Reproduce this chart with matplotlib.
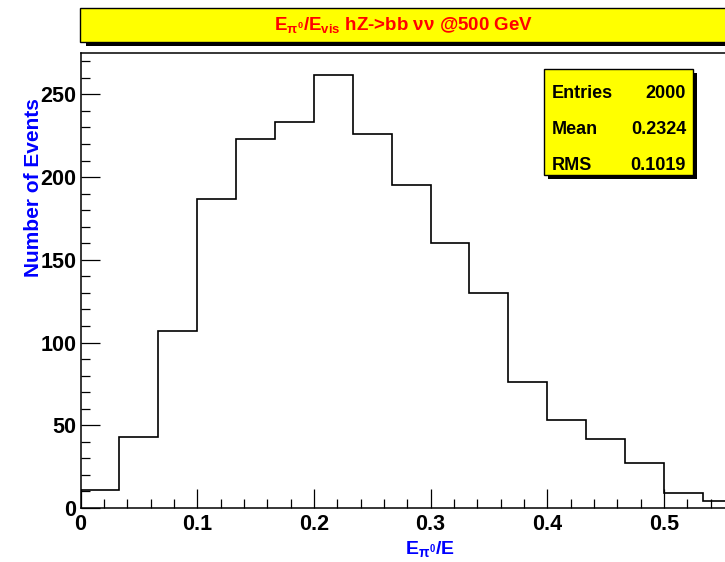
import numpy as np
import matplotlib
matplotlib.use("Agg")
import matplotlib.pyplot as plt
from matplotlib.patches import Rectangle
from matplotlib.ticker import MultipleLocator, FuncFormatter

plt.rcParams['font.family'] = ['Liberation Sans', 'DejaVu Sans']
plt.rcParams['font.weight'] = 'bold'
plt.rcParams['mathtext.fontset'] = 'custom'
plt.rcParams['mathtext.rm'] = 'Liberation Sans:bold'
plt.rcParams['mathtext.it'] = 'Liberation Sans:bold'
plt.rcParams['mathtext.bf'] = 'Liberation Sans:bold'

# ---- data ----
bin_width = 1.0 / 30
counts = [11, 43, 107, 187, 223, 233, 262, 226, 195, 160, 130, 76, 53, 42, 27, 9, 4]
x_ticks = [0.0, 0.1, 0.2, 0.3, 0.4, 0.5]
y_ticks = [0, 50, 100, 150, 200, 250]
stats_labels = ["Entries", "Mean", "RMS"]
stats_values = ["2000", "0.2324", "0.1019"]
title = r"$E_{\pi^{0}}/E_{vis}$ hZ->bb νν @500 GeV"
x_title = r"$E_{\pi^{0}}/E$"
y_title = "Number of Events"

W, H = 725, 562
fig = plt.figure(figsize=(W / 100, H / 100), dpi=100)
fig.patch.set_facecolor("white")

def fx(px):
    return px / W

def fy(py):
    return 1 - py / H

# axes frame: left 80.5 px, top 53, bottom 508; 0.1 units = 116.7 px
x0_px, top_px, bot_px = 80.5, 53, 508
xmax = 0.6
ax = fig.add_axes([fx(x0_px), fy(bot_px), xmax * 1166.7 / W, (bot_px - top_px) / H])
ax.set_xlim(0, xmax)
ax.set_ylim(0, 275)

edges = np.arange(len(counts) + 1) * bin_width
ax.stairs(counts, edges, color="black", linewidth=1.2, baseline=0)

for s in ax.spines.values():
    s.set_linewidth(1.1)
    s.set_color("black")

ax.xaxis.set_minor_locator(MultipleLocator(0.02))
ax.yaxis.set_minor_locator(MultipleLocator(10))
ax.set_xticks(x_ticks)
ax.set_yticks(y_ticks)
ax.xaxis.set_major_formatter(FuncFormatter(lambda v, p: "0" if abs(v) < 1e-9 else f"{v:.1f}"))
ax.yaxis.set_major_formatter(FuncFormatter(lambda v, p: f"{int(round(v))}"))
ax.tick_params(which="major", direction="in", length=13.5, width=0.9, labelsize=15.5)
ax.tick_params(which="minor", direction="in", length=6.8, width=0.9)
ax.tick_params(axis="x", which="major", pad=4)
ax.tick_params(axis="y", which="major", pad=3)
ax.tick_params(top=False, right=False, which="both")
for lab in ax.get_xticklabels() + ax.get_yticklabels():
    lab.set_fontweight("bold")

# axis titles
fig.text(fx(34), fy(188), y_title, rotation=90, ha="center", va="center",
         color="#0000ff", fontsize=15, fontweight="bold")
fig.text(fx(430), fy(549), x_title, ha="center", va="center",
         color="#0000ff", fontsize=14, fontweight="bold")

# title box with shadow
fig.patches.append(Rectangle((fx(86), fy(46)), fx(800), 4 / H, transform=fig.transFigure,
                             facecolor="black", edgecolor="none", zorder=1))
fig.patches.append(Rectangle((fx(80), fy(42)), fx(800), 34 / H, transform=fig.transFigure,
                             facecolor="#ffff00", edgecolor="black", linewidth=1.0, zorder=2))
fig.text(fx(404), fy(25), title, ha="center", va="center", color="#ff0000",
         fontsize=13.5, fontweight="bold", zorder=3)

# stats box with shadow
bx0, by0, bx1, by1 = 544, 69, 693, 175
fig.patches.append(Rectangle((fx(bx0 + 4), fy(by1 + 4)), (bx1 - bx0) / W, (by1 - by0) / H,
                             transform=fig.transFigure, facecolor="black", edgecolor="none", zorder=4))
fig.patches.append(Rectangle((fx(bx0), fy(by1)), (bx1 - bx0) / W, (by1 - by0) / H,
                             transform=fig.transFigure, facecolor="#ffff00", edgecolor="black",
                             linewidth=1.0, zorder=5))
rows_y = [93, 130, 166]
for lbl, val, yy in zip(stats_labels, stats_values, rows_y):
    fig.text(fx(552), fy(yy), lbl, ha="left", va="center", fontsize=13,
             fontweight="bold", color="black", zorder=6)
    fig.text(fx(686), fy(yy), val, ha="right", va="center", fontsize=13,
             fontweight="bold", color="black", zorder=6)

fig.savefig("out.png", dpi=100)
